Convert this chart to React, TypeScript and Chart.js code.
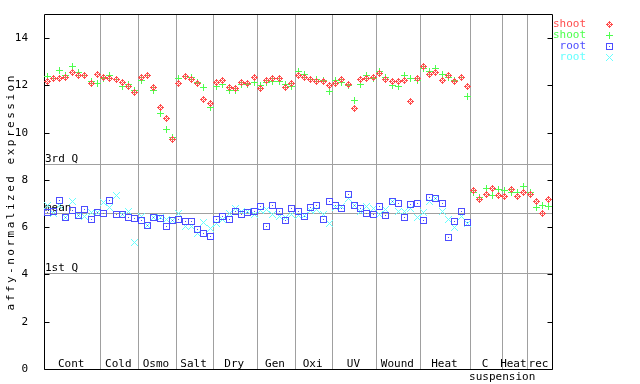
import React, { useEffect, useRef } from "react";
import { Chart, registerables } from "chart.js";

Chart.register(...registerables);

// ---- data ----
const groupNames = ["Cont", "Cold", "Osmo", "Salt", "Dry", "Gen", "Oxi", "UV", "Wound", "Heat", "C", "Heat", "rec"];
const groupSubLabels = ["", "", "", "", "", "", "", "", "", "", "suspension", "", ""];
const groupSizes = [9, 6, 6, 6, 7, 6, 6, 7, 7, 8, 5, 4, 4];
const yTickValues = [0, 2, 4, 6, 8, 10, 12, 14];
const quartileLabels = ["3rd Q", "mean", "1st Q"];
const quartileValues = [8.68, 6.61, 4.08];
const seriesNames = ["shoot", "shoot", "root", "root"];

const shootRed = [
  12.18, 12.30, 12.30, 12.34, 12.57, 12.43, 12.43, 12.09, 12.47,
  12.34, 12.30, 12.26, 12.13, 11.97, 11.71,
  12.34, 12.43, 11.92, 11.08, 10.62, 9.73,
  12.09, 12.39, 12.26, 12.09, 11.42, 11.25,
  12.13, 12.22, 11.92, 11.88, 12.13, 12.09, 12.34,
  11.88, 12.22, 12.30, 12.30, 11.92, 12.09,
  12.43, 12.34, 12.26, 12.18, 12.18, 12.01,
  12.09, 12.26, 12.05, 11.04, 12.26, 12.30, 12.34,
  12.51, 12.26, 12.18, 12.18, 12.22, 11.33, 12.30,
  12.81, 12.47, 12.56, 12.22, 12.43, 12.18, 12.34, 11.97,
  7.54, 7.16, 7.37, 7.62, 7.33,
  7.28, 7.58, 7.28, 7.49,
  7.37, 7.07, 6.57, 7.16,
];
const shootGreen = [
  12.39, 12.30, 12.64, 12.43, 12.81, 12.56, 12.43, 12.18, 12.09,
  12.30, 12.43, 12.26, 11.97, 12.05, 11.80,
  12.22, 12.43, 11.80, 10.83, 10.15, 9.81,
  12.30, 12.39, 12.34, 12.13, 11.92, 11.08,
  11.97, 12.05, 11.80, 11.80, 12.05, 12.05, 12.13,
  12.01, 12.13, 12.18, 12.18, 12.05, 11.97,
  12.60, 12.47, 12.26, 12.26, 12.22, 11.75,
  12.22, 12.13, 12.01, 11.37, 12.05, 12.43, 12.30,
  12.60, 12.34, 12.01, 11.97, 12.43, 12.30, 12.22,
  12.72, 12.60, 12.72, 12.47, 12.34, 12.22, 12.34, 11.54,
  7.45, 7.24, 7.66, 7.33, 7.58,
  7.54, 7.49, 7.45, 7.71,
  7.49, 6.82, 6.90, 6.86,
];
const rootBlue = [
  6.61, 6.65, 7.12, 6.40, 6.69, 6.48, 6.74, 6.31, 6.61,
  6.57, 7.12, 6.52, 6.52, 6.40, 6.36,
  6.27, 6.06, 6.40, 6.36, 6.02, 6.27,
  6.31, 6.23, 6.23, 5.89, 5.72, 5.60,
  6.31, 6.44, 6.31, 6.65, 6.52, 6.61, 6.65,
  6.86, 6.02, 6.90, 6.65, 6.27, 6.78,
  6.65, 6.44, 6.82, 6.90, 6.31, 7.07,
  6.90, 6.78, 7.37, 6.90, 6.78, 6.57, 6.52,
  6.86, 6.48, 7.07, 6.99, 6.40, 6.95, 6.99,
  6.27, 7.24, 7.20, 6.99, 5.55, 6.23, 6.65, 6.19,
];
const rootCyan = [
  6.90, 6.57, 6.93, 6.40, 7.07, 6.48, 6.44, 6.61, 6.61,
  7.03, 6.82, 7.33, 6.52, 6.65, 5.34,
  6.44, 6.06, 6.40, 6.40, 6.31, 6.27,
  6.57, 6.02, 6.02, 5.72, 6.19, 5.93,
  6.14, 6.31, 6.57, 6.78, 6.65, 6.65, 6.52,
  6.69, 6.74, 6.52, 6.44, 6.40, 6.52,
  6.48, 6.48, 6.69, 6.74, 6.52, 6.14,
  6.82, 6.86, 7.20, 6.90, 6.65, 6.86, 6.78,
  6.52, 6.74, 7.07, 6.65, 6.65, 6.78, 6.40,
  6.61, 7.07, 7.20, 6.65, 6.31, 5.98, 6.44, 6.14,
];

const COLORS = ["#ff4d4d", "#4dff4d", "#4d4dff", "#66ffff"];
const KINDS = ["diamond", "plus", "square", "x"];
const FONT = '11px "DejaVu Sans Mono", monospace';
const TOTAL = groupSizes.reduce((a, b) => a + b, 0);

function makeMarker(kind: string, color: string): HTMLCanvasElement {
  const c = document.createElement("canvas");
  c.width = 7;
  c.height = 7;
  const ctx = c.getContext("2d")!;
  ctx.fillStyle = color;
  for (let dy = -3; dy <= 3; dy++) {
    for (let dx = -3; dx <= 3; dx++) {
      const ax = Math.abs(dx), ay = Math.abs(dy);
      let on = false;
      if (kind === "diamond") on = ax + ay === 1 || ax + ay === 3 || (ax + ay === 2 && ax !== 1);
      else if (kind === "plus") on = dx === 0 || dy === 0;
      else if (kind === "square") on = ax === 3 || ay === 3 || (dx === 0 && dy === 0);
      else on = ax === ay;
      if (on) ctx.fillRect(dx + 3, dy + 3, 1, 1);
    }
  }
  return c;
}

const toPoints = (arr: number[]) => arr.map((v, i) => ({ x: i + 0.5, y: v }));

export default function App() {
  const ref = useRef<HTMLCanvasElement | null>(null);

  useEffect(() => {
    if (!ref.current) return;
    const markers = KINDS.map((k, i) => makeMarker(k, COLORS[i]));
    const series = [shootRed, shootGreen, rootBlue, rootCyan];

    const decor = {
      id: "decor",
      beforeDatasetsDraw(chart: any) {
        const { ctx, chartArea: a, scales } = chart;
        const xs = scales.x, ys = scales.y;
        const L = Math.floor(a.left) + 0.5, R = Math.floor(a.right) + 0.5;
        const T = Math.floor(a.top) + 0.5, B = Math.floor(a.bottom) + 0.5;
        ctx.save();
        ctx.lineWidth = 1;
        ctx.strokeStyle = "#a0a0a0";
        // group separators
        let cum = 0;
        const bounds: number[] = [0];
        groupSizes.forEach((n, i) => {
          cum += n;
          bounds.push(cum);
          if (i < groupSizes.length - 1) {
            const px = Math.round(xs.getPixelForValue(cum)) + 0.5;
            ctx.beginPath();
            ctx.moveTo(px, T);
            ctx.lineTo(px, B);
            ctx.stroke();
          }
        });
        // quartile lines
        quartileValues.forEach((v) => {
          const py = Math.round(ys.getPixelForValue(v)) + 0.5;
          ctx.beginPath();
          ctx.moveTo(L, py);
          ctx.lineTo(R, py);
          ctx.stroke();
        });
        ctx.font = FONT;
        ctx.fillStyle = "#000";
        ctx.textBaseline = "middle";
        ctx.textAlign = "left";
        quartileValues.forEach((v, i) => {
          const py = ys.getPixelForValue(v);
          ctx.fillText(quartileLabels[i], a.left + 1, py - 4.5);
        });
        // group labels
        ctx.textAlign = "center";
        groupNames.forEach((name, i) => {
          const cx = (xs.getPixelForValue(bounds[i]) + xs.getPixelForValue(bounds[i + 1])) / 2;
          ctx.fillText(name, cx - 1, a.bottom - 5);
          if (groupSubLabels[i]) ctx.fillText(groupSubLabels[i], cx + 16, a.bottom + 8);
        });
        // frame
        ctx.strokeStyle = "#000";
        ctx.beginPath();
        ctx.rect(L, T, R - L, B - T);
        ctx.stroke();
        // inward ticks
        yTickValues.forEach((v) => {
          const py = Math.round(ys.getPixelForValue(v)) + 0.5;
          ctx.beginPath();
          ctx.moveTo(L, py);
          ctx.lineTo(L + 5, py);
          ctx.moveTo(R, py);
          ctx.lineTo(R - 5, py);
          ctx.stroke();
        });
        // y title
        ctx.save();
        ctx.translate(11, (a.top + a.bottom) / 2);
        ctx.rotate(-Math.PI / 2);
        (ctx as any).letterSpacing = "2.5px";
        ctx.textAlign = "center";
        ctx.fillText("affy-normalized expression", 0, 0);
        ctx.restore();
        // legend
        ctx.textAlign = "right";
        seriesNames.forEach((name, i) => {
          const y = 24 + i * 11;
          ctx.fillStyle = COLORS[i];
          ctx.fillText(name, 586, y);
          ctx.drawImage(markers[i], 606, Math.round(y) - 3);
        });
        ctx.restore();
        ctx.imageSmoothingEnabled = false;
      },
    };

    const chart = new Chart(ref.current, {
      type: "scatter",
      data: {
        datasets: series.map((arr, i) => ({
          label: seriesNames[i],
          data: toPoints(arr),
          pointStyle: markers[i] as any,
          pointRadius: 3.5,
          showLine: false,
        })),
      },
      options: {
        animation: false,
        responsive: false,
        events: [],
        layout: { padding: { top: 13, right: 88, left: 0, bottom: 0 } },
        plugins: { legend: { display: false }, tooltip: { enabled: false } },
        scales: {
          x: {
            type: "linear",
            min: 0,
            max: TOTAL,
            grid: { display: false },
            border: { display: false },
            ticks: { display: false },
            afterFit: (s: any) => { s.height = 15; },
          },
          y: {
            type: "linear",
            min: 0,
            max: 15,
            grid: { display: false },
            border: { display: false },
            afterBuildTicks: (s: any) => { s.ticks = yTickValues.map((v) => ({ value: v })); },
            ticks: {
              padding: 8,
              color: "#000",
              font: { family: '"DejaVu Sans Mono", monospace', size: 11 },
            },
            afterFit: (s: any) => { s.width = 44; },
          },
        },
      },
      plugins: [decor],
    } as any);
    return () => chart.destroy();
  }, []);

  return (
    <div style={{ position: "absolute", left: 0, top: 0, width: 640, height: 384, background: "#fff" }}>
      <canvas ref={ref} width={640} height={384} />
    </div>
  );
}
